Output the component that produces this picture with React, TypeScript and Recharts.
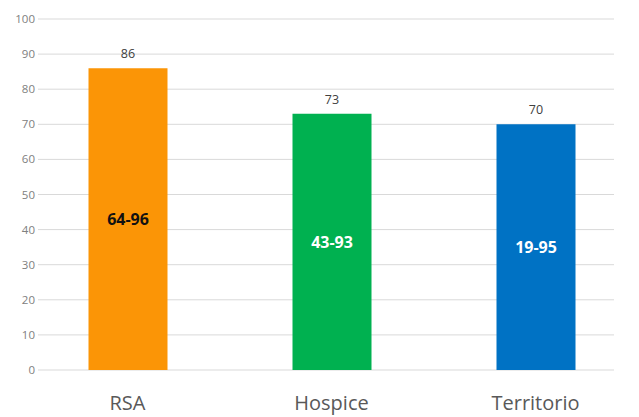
import React from 'react';
import { BarChart, Bar, XAxis, YAxis, CartesianGrid, LabelList, Cell } from 'recharts';

const categories = ['RSA', 'Hospice', 'Territorio'];
const values = [86, 73, 70];
const ranges = ['64-96', '43-93', '19-95'];
const barColors = ['#FB9506', '#00B150', '#0072C4'];
const rangeLabelColors = ['#111111', '#ffffff', '#ffffff'];
const yTicks = [0, 10, 20, 30, 40, 50, 60, 70, 80, 90, 100];

const data = categories.map((c, i) => ({ name: c, value: values[i], range: ranges[i] }));

const YTick = (props: any) => {
  const { y, payload } = props;
  return (
    <text x={35} y={y} dy={4} textAnchor="end" fill="#808080" fontSize={11.5} fontFamily="Open Sans">
      {payload.value}
    </text>
  );
};

const XTick = (props: any) => {
  const { x, payload } = props;
  return (
    <text x={x} y={410} textAnchor="middle" fill="#595959" fontSize={20} fontFamily="Open Sans">
      {payload.value}
    </text>
  );
};

const RangeLabel = (props: any) => {
  const { x, y, width, height, value, index } = props;
  return (
    <text
      x={x + width / 2}
      y={y + height / 2}
      dy={6}
      textAnchor="middle"
      fill={rangeLabelColors[index]}
      fontSize={16}
      fontWeight="bold"
      fontFamily="Open Sans"
    >
      {value}
    </text>
  );
};

const gridLine = (props: any) => (
  <line
    key={props.key ?? `g-${props.y1}`}
    x1={props.x1 + 12.5}
    x2={props.x2 - 23.5}
    y1={props.y1}
    y2={props.y2}
    stroke="#d9d9d9"
    strokeWidth={1}
  />
);

export default function App() {
  return (
    <div style={{ position: 'relative', margin: '-8px 0 0 -8px', width: 639, height: 417, background: '#ffffff', overflow: 'hidden' }}>
      <div style={{ position: 'absolute', left: 0, top: 0, width: 8, height: 100, background: '#fff8c8', borderBottomRightRadius: 8, zIndex: 2 }} />
      <BarChart
        width={639}
        height={417}
        data={data}
        margin={{ top: 19, right: 1.5, bottom: 0, left: 0 }}
        barSize={79}
      >
        <CartesianGrid vertical={false} horizontal={gridLine} />
        <YAxis
          width={25.5}
          domain={[0, 100]}
          ticks={yTicks}
          axisLine={false}
          tickLine={false}
          tick={<YTick />}
          interval={0}
        />
        <XAxis dataKey="name" height={47} axisLine={false} tickLine={false} tick={<XTick />} interval={0} />
        <Bar dataKey="value" isAnimationActive={false}>
          {data.map((d, i) => (
            <Cell key={d.name} fill={barColors[i]} />
          ))}
          <LabelList dataKey="value" position="top" offset={10} fill="#404040" fontSize={12.5} fontFamily="Open Sans" />
          <LabelList dataKey="range" content={<RangeLabel />} />
        </Bar>
      </BarChart>
    </div>
  );
}
